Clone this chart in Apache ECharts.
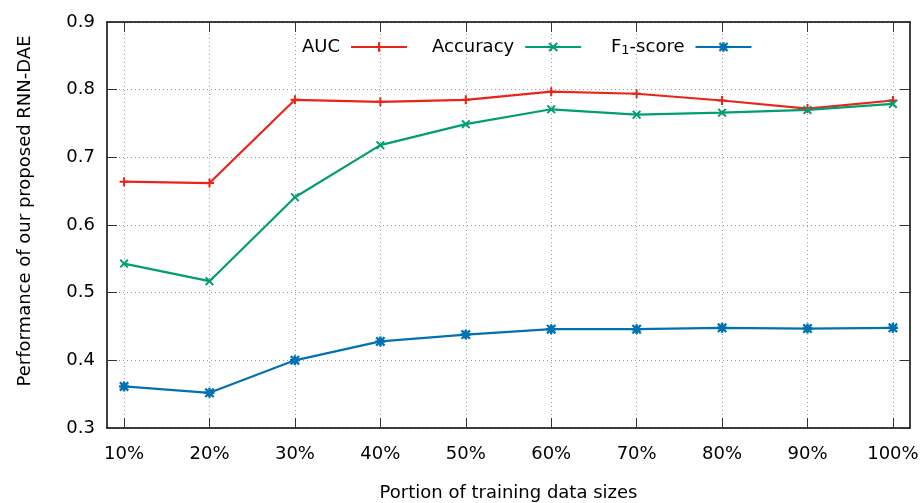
<!DOCTYPE html>
<html>
<head>
<meta charset="utf-8">
<script src="https://cdn.jsdelivr.net/npm/echarts@6/dist/echarts.min.js"></script>
<style>
html,body{margin:0;padding:0;background:#fff;}
#chart{width:923px;height:503px;}
</style>
</head>
<body>
<div id="chart"></div>
<script>
// ---- data ----
var xValues = [10, 20, 30, 40, 50, 60, 70, 80, 90, 100];
var xTickValues = [10, 20, 30, 40, 50, 60, 70, 80, 90, 100];
var yTickValues = [0.3, 0.4, 0.5, 0.6, 0.7, 0.8, 0.9];
var seriesNames = ['AUC', 'Accuracy', 'F1-score'];
var auc = [0.664, 0.662, 0.785, 0.782, 0.785, 0.797, 0.794, 0.784, 0.772, 0.784];
var accuracy = [0.543, 0.517, 0.641, 0.718, 0.749, 0.771, 0.763, 0.766, 0.770, 0.779];
var f1 = [0.3615, 0.352, 0.400, 0.428, 0.438, 0.446, 0.446, 0.448, 0.447, 0.448];

var FONT = 'DejaVu Sans';
var plusPath = 'path://M3.1,0H4.9V3.1H8V4.9H4.9V8H3.1V4.9H0V3.1H3.1Z';
var crossPath = 'path://M0,1.2L1.2,0L4,2.8L6.8,0L8,1.2L5.2,4L8,6.8L6.8,8L4,5.2L1.2,8L0,6.8L2.8,4Z';
var starPath = 'path://M3,0H5V3H8V5H5V8H3V5H0V3H3Z M0,1.3L1.3,0L4,2.7L6.7,0L8,1.3L5.3,4L8,6.7L6.7,8L4,5.3L1.3,8L0,6.7L2.7,4Z';

function pairs(vals) { return xValues.map(function (x, i) { return [x, vals[i]]; }); }

function makeLegend(name, left) {
  return {
    left: left, top: 38, padding: 0,
    align: 'right',
    itemWidth: 56, itemHeight: 12, itemGap: 0,
    data: [name],
    formatter: function (n) { return n === 'F1-score' ? 'F{sub|1}-score' : n; },
    textStyle: {
      fontFamily: FONT, fontSize: 18, color: '#000', padding: [0, 6, 0, 0],
      rich: {sub: {fontFamily: FONT, fontSize: 13, color: '#000', padding: [7, 0, 0, 0]}}
    }
  };
}

var chart = echarts.init(document.getElementById('chart'), null, {renderer: 'canvas'});
var gridLine = {show: true, lineStyle: {color: '#9a9a9a', width: 1, type: [1, 3]}};
var option = {
  backgroundColor: '#ffffff',
  animation: false,
  textStyle: {fontFamily: FONT},
  grid: {left: 107, right: 13, top: 22, bottom: 75, containLabel: false, outerBoundsMode: 'none'},
  legend: [
    makeLegend(seriesNames[0], 302),
    makeLegend(seriesNames[1], 432),
    makeLegend(seriesNames[2], 611)
  ],
  xAxis: [{
    type: 'value', min: 8, max: 102, position: 'bottom',
    name: 'Portion of training data sizes', nameLocation: 'middle', nameGap: 56,
    nameTextStyle: {fontFamily: FONT, fontSize: 18, color: '#000'},
    axisLine: {show: true, onZero: false, lineStyle: {color: '#000', width: 1.5}},
    axisTick: {show: true, inside: true, length: 10, customValues: xTickValues, lineStyle: {color: '#333', width: 1}},
    axisLabel: {show: true, margin: 17, customValues: xTickValues, formatter: '{value}%', fontFamily: FONT, fontSize: 18, color: '#000'},
    splitLine: gridLine
  }, {
    type: 'value', min: 8, max: 102, position: 'top',
    axisLine: {show: true, onZero: false, lineStyle: {color: '#000', width: 1.5}},
    axisTick: {show: true, inside: true, length: 10, customValues: xTickValues, lineStyle: {color: '#333', width: 1}},
    axisLabel: {show: false},
    splitLine: {show: false}
  }],
  yAxis: [{
    type: 'value', min: 0.3, max: 0.9, interval: 0.1, position: 'left',
    name: 'Performance of our proposed RNN-DAE', nameLocation: 'middle', nameGap: 73, nameRotate: 90,
    nameTextStyle: {fontFamily: FONT, fontSize: 18, color: '#000', padding: [0, 0, 0, 28]},
    axisLine: {show: true, onZero: false, lineStyle: {color: '#000', width: 1.5}},
    axisTick: {show: true, inside: true, length: 10, lineStyle: {color: '#333', width: 1}},
    axisLabel: {show: true, margin: 12, formatter: function (v) { return v.toFixed(1); }, fontFamily: FONT, fontSize: 18, color: '#000'},
    splitLine: gridLine
  }, {
    type: 'value', min: 0.3, max: 0.9, interval: 0.1, position: 'right',
    axisLine: {show: true, onZero: false, lineStyle: {color: '#000', width: 1.5}},
    axisTick: {show: true, inside: true, length: 10, lineStyle: {color: '#333', width: 1}},
    axisLabel: {show: false},
    splitLine: {show: false}
  }],
  series: [{
    name: 'AUC', type: 'line', data: pairs(auc),
    symbol: plusPath, symbolSize: 9, showSymbol: true,
    lineStyle: {color: '#e8241b', width: 2.2}, itemStyle: {color: '#e8241b'}
  }, {
    name: 'Accuracy', type: 'line', data: pairs(accuracy),
    symbol: crossPath, symbolSize: 9, showSymbol: true,
    lineStyle: {color: '#009e73', width: 2.2}, itemStyle: {color: '#009e73'}
  }, {
    name: 'F1-score', type: 'line', data: pairs(f1),
    symbol: starPath, symbolSize: 10, showSymbol: true,
    lineStyle: {color: '#0072b2', width: 2.2}, itemStyle: {color: '#0072b2'}
  }]
};
chart.setOption(option);
</script>
</body>
</html>
